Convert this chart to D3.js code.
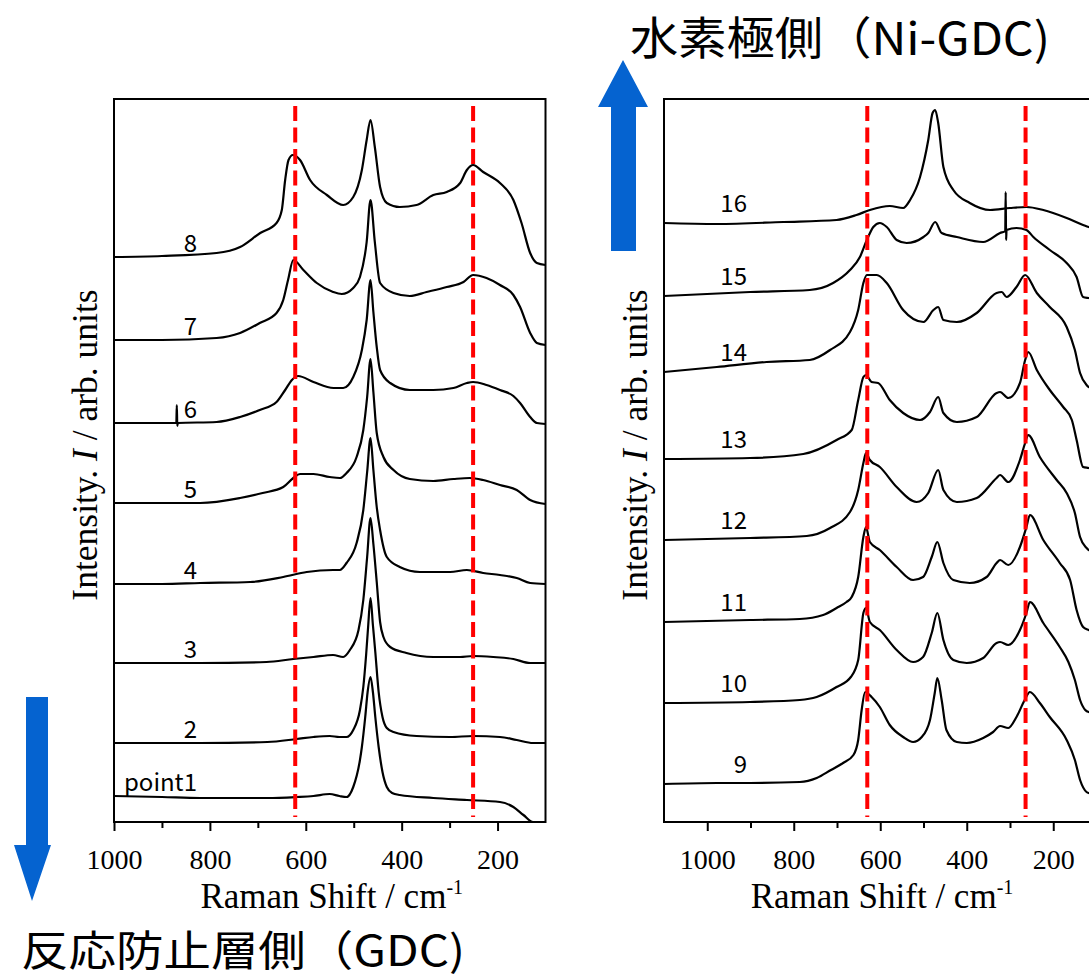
<!DOCTYPE html>
<html>
<head>
<meta charset="utf-8">
<script src="https://cdn.jsdelivr.net/npm/d3@7"></script>
<style>
body { margin: 0; background: #fff; }
</style>
</head>
<body>
<div class="chart-container"></div>
<script>
// spectra: [Raman shift (cm-1), intensity (arb. units, offset stacked)]
var leftNames = ['point1', '2', '3', '4', '5', '6', '7', '8']
var rightNames = ['9', '10', '11', '12', '13', '14', '15', '16']

var p1 = [[1000,26],[900,25],[820,24],[740,24],[680,24],[619,25],[584,26],[550,28],[530,26],[515,25],[501,35],[487,62],[483,75],[476,105],[471,130],[465,145],[460,130],[455,105],[448,75],[440,50],[431,35],[420,29],[404,27],[334,24],[264,22],[195,20],[167,15],[146,7],[126,0],[100,0]]
var p2 = [[1000,79],[900,79],[820,79],[680,80],[619,83],[584,85],[550,86],[530,85],[515,85],[501,92],[487,112],[480,135],[474,168],[470,195],[465,224],[460,197],[455,170],[448,130],[440,105],[431,94],[417,90],[369,86],[299,85],[251,86],[195,85],[160,82],[126,79],[100,79]]
var p3 = [[1000,159],[900,159],[820,159],[682,160],[626,163],[584,165],[543,167],[522,165],[508,172],[490,192],[480,222],[472,265],[465,304],[459,278],[452,240],[445,200],[438,185],[424,175],[390,169],[334,165],[278,165],[251,166],[209,165],[167,163],[132,159],[100,159]]
var p4 = [[1000,238],[900,238],[820,239],[716,240],[647,245],[598,250],[543,252],[529,252],[515,259],[494,279],[480,312],[472,350],[465,384],[459,352],[452,315],[445,292],[431,265],[404,255],[362,250],[299,250],[264,252],[230,249],[195,247],[160,244],[132,239],[100,238]]
var p5 = [[1000,319],[900,319],[820,319],[737,324],[690,329],[647,335],[626,344],[612,348],[584,348],[550,345],[529,344],[515,349],[494,365],[480,392],[472,425],[465,463],[459,430],[452,389],[438,365],[417,352],[383,343],[334,341],[292,343],[258,344],[230,342],[195,337],[160,332],[132,322],[100,318]]
var p6 = [[1000,399],[900,399],[870,399],[869,417],[868,396],[867,399],[786,400],[737,405],[696,412],[661,420],[643,432],[629,442],[616,446],[584,440],[542,434],[522,434],[501,445],[483,472],[473,502],[465,542],[459,510],[452,475],[445,452],[424,439],[383,432],[334,432],[292,434],[264,439],[251,440],[223,437],[195,432],[167,426],[153,419],[132,405],[118,399],[100,398]]
var p7 = [[1000,482],[900,482],[786,484],[737,489],[696,499],[661,509],[647,522],[637,542],[626,562],[605,552],[577,539],[543,530],[525,528],[501,534],[487,545],[473,580],[465,622],[456,580],[445,539],[417,529],[383,526],[348,530],[306,535],[271,540],[251,547],[223,544],[195,537],[167,527],[153,515],[132,489],[118,479],[100,477]]
var p8 = [[1000,565],[900,566],[786,569],[737,575],[695,589],[661,599],[650,612],[643,642],[636,662],[627,667],[612,662],[591,642],[556,627],[522,617],[501,625],[483,652],[473,682],[465,702],[456,675],[445,635],[431,619],[404,615],[369,617],[334,627],[306,630],[278,639],[264,652],[251,657],[230,650],[195,639],[167,622],[150,599],[132,569],[118,559],[100,557]]

var p9 = [[1100,38],[978,39],[901,39],[786,40],[747,44],[714,52],[686,59],[662,67],[651,82],[643,112],[635,130],[620,125],[601,115],[578,97],[547,85],[524,80],[504,85],[485,102],[474,129],[468,144],[458,122],[447,92],[423,80],[400,79],[362,84],[339,90],[323,96],[304,94],[285,105],[266,122],[254,130],[231,119],[208,105],[169,82],[150,62],[138,42],[123,30],[118,29],[100,28]]
var p10 = [[1100,119],[901,120],[786,122],[747,125],[701,135],[668,145],[651,162],[639,209],[633,214],[624,200],[601,192],[562,172],[524,160],[501,165],[481,189],[468,209],[454,182],[431,162],[400,159],[362,164],[331,179],[323,180],[304,177],[277,192],[262,209],[254,220],[223,199],[185,175],[165,160],[150,142],[138,122],[126,112],[118,110],[100,109]]
var p11 = [[1100,200],[901,202],[786,203],[732,207],[701,214],[678,220],[666,225],[651,245],[639,285],[633,295],[624,280],[601,272],[562,255],[524,242],[501,245],[481,265],[468,280],[454,259],[431,242],[393,239],[354,245],[331,259],[323,262],[304,257],[277,275],[262,295],[254,307],[223,282],[185,259],[161,242],[146,212],[131,195],[118,192],[100,190]]
var p12 = [[1100,282],[901,284],[770,286],[716,294],[670,310],[651,332],[639,359],[633,369],[624,362],[601,355],[562,335],[516,320],[489,329],[466,352],[454,332],[423,320],[377,324],[331,344],[323,347],[304,340],[277,362],[265,379],[258,387],[231,365],[192,342],[169,329],[150,309],[138,285],[123,274],[118,272],[100,270]]
var p13 = [[1100,363],[901,364],[778,368],[701,382],[666,392],[651,422],[639,445],[633,447],[620,440],[605,439],[578,422],[547,409],[508,402],[485,410],[466,425],[454,409],[423,400],[377,405],[331,429],[323,430],[304,424],[277,439],[265,462],[258,470],[238,452],[208,432],[177,415],[157,402],[146,382],[131,355],[118,354],[100,352]]
var p14 = [[1100,450],[978,455],[863,460],[763,462],[716,472],[670,490],[651,512],[639,539],[631,547],[608,547],[585,539],[547,512],[500,500],[477,512],[466,515],[454,502],[423,500],[377,509],[331,529],[319,530],[308,525],[285,535],[265,547],[238,529],[208,515],[169,495],[150,472],[138,449],[123,437],[118,435],[100,433]]
var p15 = [[1100,526],[901,530],[763,532],[709,539],[670,552],[647,565],[631,582],[616,595],[601,599],[585,595],[562,582],[539,579],[500,585],[489,589],[473,600],[458,589],[423,585],[362,580],[323,589],[311,591],[310,630],[309,582],[308,592],[285,594],[262,592],[246,585],[208,572],[169,559],[146,545],[131,525],[118,524],[100,523]]
var p16 = [[1100,599],[978,598],[824,600],[701,602],[655,607],[624,612],[578,616],[547,614],[531,622],[508,645],[489,682],[479,709],[473,712],[466,699],[454,655],[431,632],[393,619],[346,612],[300,614],[262,615],[223,612],[169,604],[131,597],[118,595],[100,594]]

var leftSpectra = [p1, p2, p3, p4, p5, p6, p7, p8]
var rightSpectra = [p9, p10, p11, p12, p13, p14, p15, p16]

var majorTicks = [1000, 800, 600, 400, 200]
var minorTicks = [900, 700, 500, 300]
var leftGuides = [622, 251]
var rightGuides = [630, 264]
var leftDomain = [1000, 100]
var rightDomain = [1100, 100]
var intensityDomain = [0, 723]

var W = 1089, H = 980
var serif = "'Liberation Serif', 'Times New Roman', serif"
var svg = d3.select(".chart-container").append("svg").attr("width", W).attr("height", H)
  .attr("viewBox", "0 0 " + W + " " + H).style("display", "block")

var top_ = 99, bottom_ = 822

function drawPanel(x0, x1, domain, spectra, names, guides, labelGap) {
  var x = d3.scaleLinear().domain(domain).range([x0, x1])
  var y = d3.scaleLinear().domain(intensityDomain).range([bottom_, top_])
  var g = svg.append("g")

  var line = d3.line().x(function(d) { return x(d[0]) }).y(function(d) { return y(d[1]) })
    .curve(d3.curveMonotoneX)

  g.selectAll("path.spec").data(spectra).enter().append("path")
    .attr("class", "spec").attr("d", line)
    .attr("fill", "none").attr("stroke", "#000").attr("stroke-width", 2.2)
    .attr("stroke-linejoin", "round")

  // labels, right aligned near the left part of each trace
  g.selectAll("text.lab").data(spectra).enter().append("text")
    .attr("class", "lab")
    .attr("x", x0 + 83)
    .attr("y", function(d) { return y(d[0][1]) - labelGap })
    .attr("text-anchor", "end")
    .style("font-family", "'Noto Sans CJK JP', 'Noto Sans', sans-serif")
    .style("font-size", "24px")
    .text(function(d, i) { return names[i] })

  // red dashed guide lines
  g.selectAll("line.guide").data(guides).enter().append("line")
    .attr("x1", function(d) { return x(d) }).attr("x2", function(d) { return x(d) })
    .attr("y1", top_ + 7).attr("y2", bottom_ - 5)
    .attr("stroke", "#ff0000").attr("stroke-width", 4)
    .attr("stroke-dasharray", "15,6.5")

  // frame
  g.append("rect").attr("x", x0).attr("y", top_).attr("width", x1 - x0).attr("height", bottom_ - top_)
    .attr("fill", "none").attr("stroke", "#000").attr("stroke-width", 2)

  // x axis
  var ax = g.append("g").attr("transform", "translate(0," + bottom_ + ")")
    .attr("font-family", serif)
    .call(d3.axisBottom(x).tickValues(majorTicks).tickSize(9).tickPadding(18).tickFormat(d3.format("d")))
  ax.attr("font-family", serif)
  ax.select(".domain").remove()
  ax.selectAll("line").attr("stroke-width", 2)
  ax.selectAll("text").style("font-family", serif).style("font-size", "28px").attr("fill", "#000")
  var mx = g.append("g").attr("transform", "translate(0," + bottom_ + ")")
    .call(d3.axisBottom(x).tickValues(minorTicks).tickSize(6).tickFormat(""))
  mx.select(".domain").remove()
  mx.selectAll("line").attr("stroke-width", 2)

  // axis titles
  var xt = g.append("text").attr("x", (x0 + Math.min(x1, x0 + 432)) / 2 + 2).attr("y", 908)
    .attr("text-anchor", "middle")
    .style("font-family", serif).style("font-size", "35px")
  xt.append("tspan").text("Raman Shift / cm")
  xt.append("tspan").attr("dy", -14).style("font-size", "20px").text("-1")

  var yt = g.append("text").attr("transform", "translate(" + (x0 - 17) + ",445) rotate(-90)")
    .attr("text-anchor", "middle")
    .style("font-family", serif).style("font-size", "35.5px")
  yt.append("tspan").text("Intensity. ")
  yt.append("tspan").style("font-style", "italic").text("I")
  yt.append("tspan").text(" / arb. units")
}

drawPanel(114, 545.5, leftDomain, leftSpectra, leftNames, leftGuides, 5)
drawPanel(664, 1096.5, rightDomain, rightSpectra, rightNames, rightGuides, 11)

// blue direction arrows
var blue = "#0563d0"
svg.append("polygon").attr("fill", blue)
  .attr("points", "623,60 648,107 636,107 636,251 611,251 611,107 598,107")
svg.append("polygon").attr("fill", blue)
  .attr("points", "26,697 48,697 48,845 51,845 32,901 14,845 26,845")

svg.append("text").attr("x", 630).attr("y", 55)
  .attr("textLength", 420).attr("lengthAdjust", "spacingAndGlyphs")
  .style("font-family", "'Noto Sans CJK JP', sans-serif").style("font-size", "45px")
  .text("水素極側（Ni-GDC)")
svg.append("text").attr("x", 21).attr("y", 966)
  .attr("textLength", 444).attr("lengthAdjust", "spacingAndGlyphs")
  .style("font-family", "'Noto Sans CJK JP', sans-serif").style("font-size", "42px")
  .text("反応防止層側（GDC)")
</script>
</body>
</html>
